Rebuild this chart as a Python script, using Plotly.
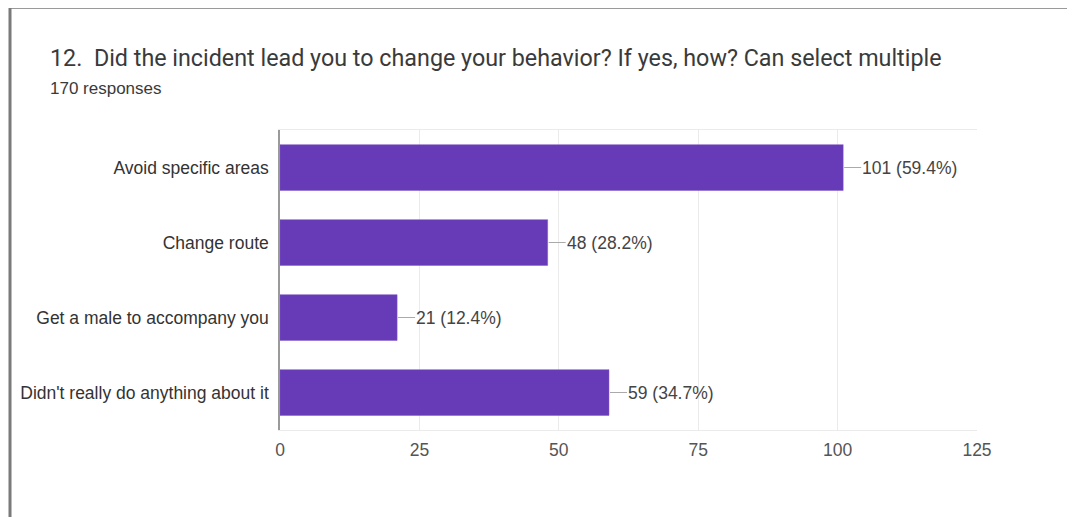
import plotly.graph_objects as go

# survey answers (top to bottom as shown)
answers = [
    "Avoid specific areas",
    "Change route",
    "Get a male to accompany you",
    "Didn't really do anything about it",
]
counts = [101, 48, 21, 59]
total_responses = 170
x_ticks = [0, 25, 50, 75, 100, 125]

title = "12.  Did the incident lead you to change your behavior? If yes, how? Can select multiple"
subtitle = f"{total_responses} responses"

# page body margin pushes the figure 8px right/down, so lay out in page pixels
OFF = 8
W, H = 1075, 517
L, R, T, B = 280 - OFF, 106, 130 - OFF, 95
pw, ph = W - L - R, H - T - B


def px_x(px):
    # page pixel column -> paper x
    return (px - OFF - L) / pw


def px_y(py):
    # page pixel row -> paper y
    return (H - B - (py - OFF)) / ph


labels = [f"{c} ({c / total_responses * 100:.1f}%)" for c in counts]

fig = go.Figure()
fig.add_trace(go.Bar(
    x=counts,
    y=answers,
    orientation="h",
    marker=dict(color="#673ab7", line=dict(color="#7e57c2", width=0.5)),
    hoverinfo="x+y",
))

annotations = []
for a, c, lab in zip(answers, counts, labels):
    annotations.append(dict(
        x=c, y=a, xref="x", yref="y",
        text=lab, showarrow=True, arrowhead=0, arrowwidth=1.2,
        arrowcolor="#aaaaaa", ax=18, ay=0, standoff=1,
        xanchor="left", borderpad=0,
        font=dict(family="Arial", size=17.5, color="#444444"),
    ))

annotations.append(dict(
    x=px_x(48), y=px_y(58), xref="paper", yref="paper",
    text=title, showarrow=False, xanchor="left", yanchor="middle",
    font=dict(family="Roboto", size=23.3, color="#3a3a3a"),
))
annotations.append(dict(
    x=px_x(48), y=px_y(89), xref="paper", yref="paper",
    text=subtitle, showarrow=False, xanchor="left", yanchor="middle",
    font=dict(family="Arial", size=17, color="#3a3a3a"),
))

shapes = [
    # screenshot frame (top and left edges)
    dict(type="line", xref="paper", yref="paper",
         x0=px_x(10), x1=px_x(W + 20), y0=px_y(8.5), y1=px_y(8.5),
         line=dict(color="#9a9a9a", width=1)),
    dict(type="line", xref="paper", yref="paper",
         x0=px_x(10), x1=px_x(10), y0=px_y(5), y1=px_y(H + 20),
         line=dict(color="#7a7a7a", width=3)),
]

fig.update_layout(
    width=W, height=H,
    margin=dict(l=L, r=R, t=T, b=B, pad=0),
    paper_bgcolor="white",
    plot_bgcolor="white",
    showlegend=False,
    bargap=0.39,
    annotations=annotations,
    shapes=shapes,
    font=dict(family="Arial", color="#444444"),
    xaxis=dict(
        range=[0, 125],
        tickvals=x_ticks,
        showgrid=True, gridcolor="#ebebeb", gridwidth=1,
        zeroline=False,
        showline=True, mirror=True, linecolor="#ebebeb",
        ticks="", ticklabelstandoff=4,
        tickfont=dict(family="Arial", size=17.5, color="#555555"),
        fixedrange=True,
    ),
    yaxis=dict(
        categoryorder="array",
        categoryarray=answers[::-1],
        showgrid=False,
        zeroline=False,
        showline=True, linecolor="#9a9a9a", linewidth=1.5,
        ticks="", ticklabelstandoff=6,
        tickfont=dict(family="Arial", size=17.5, color="#333333"),
        fixedrange=True,
    ),
)

fig.write_html("out.html")
